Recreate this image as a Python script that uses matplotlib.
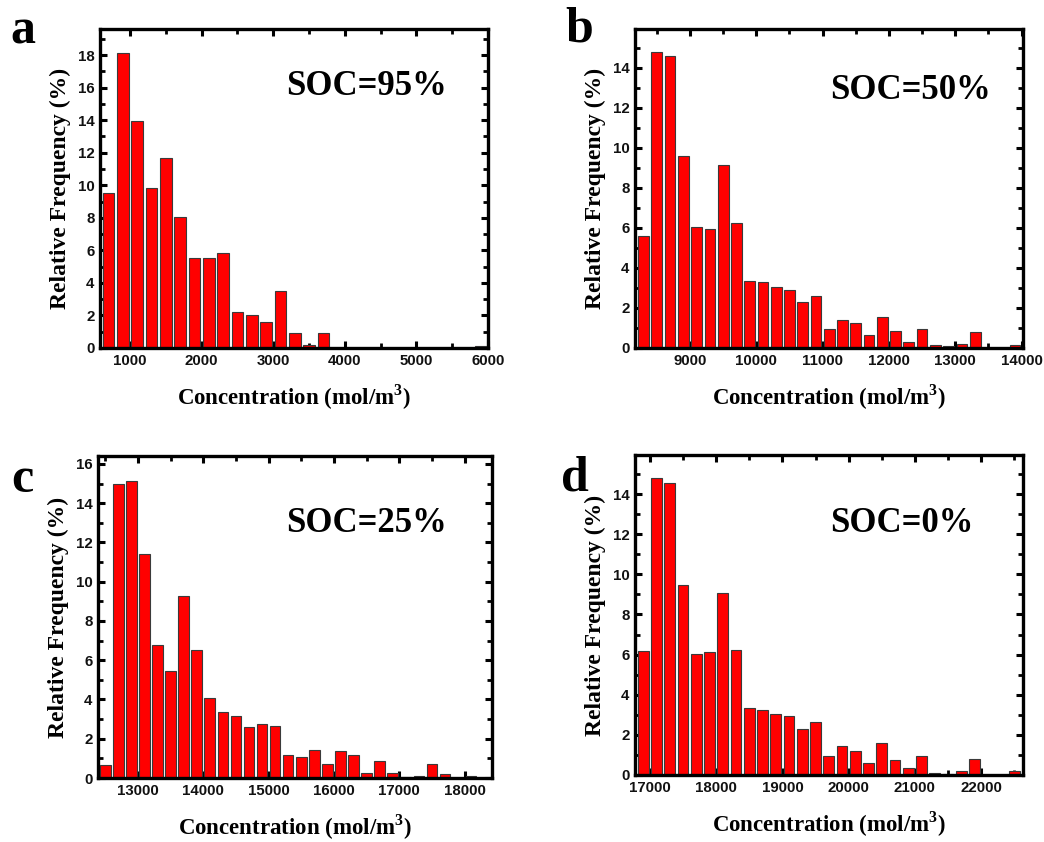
import numpy as np
import matplotlib
matplotlib.use('Agg')
import matplotlib.pyplot as plt
from matplotlib.ticker import MultipleLocator

plt.rcParams['mathtext.fontset'] = 'custom'
plt.rcParams['mathtext.rm'] = 'Liberation Serif:bold'
plt.rcParams['mathtext.bf'] = 'Liberation Serif:bold'

################################################################################################

# bin centres (mol/m^3) and relative frequency (%) for each state of charge
x_95 = np.arange(700, 6000, 200)
f_95 = [9.5, 18.1, 13.95, 9.85, 11.7, 8.05, 5.5, 5.55, 5.85, 2.2, 2.05, 1.6, 3.5, 0.95,
        0.2, 0.9, 0, 0, 0, 0, 0, 0, 0, 0, 0, 0, 0.15]

x_50 = np.arange(8300, 14000, 200)
f_50 = [5.6, 14.8, 14.6, 9.6, 6.05, 5.95, 9.13, 6.25, 3.34, 3.29, 3.05, 2.91, 2.32, 2.61,
        0.96, 1.4, 1.26, 0.64, 1.53, 0.84, 0.3, 0.96, 0.13, 0.08, 0.22, 0.81, 0, 0, 0.17]

x_25 = np.arange(12500, 18200, 200)
f_25 = [0.66, 14.97, 15.13, 11.4, 6.75, 5.47, 9.27, 6.52, 4.09, 3.36, 3.17, 2.62, 2.76, 2.67,
        1.18, 1.07, 1.43, 0.7, 1.38, 1.18, 0.24, 0.85, 0.27, 0.05, 0.1, 0.72, 0.19, 0, 0.1]

x_0 = np.arange(16900, 22600, 200)
f_0 = [6.18, 14.79, 14.54, 9.47, 6.01, 6.12, 9.09, 6.21, 3.35, 3.25, 3.03, 2.94, 2.27, 2.62,
       0.96, 1.43, 1.21, 0.62, 1.6, 0.76, 0.34, 0.96, 0.12, 0.06, 0.22, 0.79, 0, 0, 0.2]

panel_letters = ['a', 'b', 'c', 'd']
soc_labels = ['SOC=95%', 'SOC=50%', 'SOC=25%', 'SOC=0%']

################################################################################################

serif = 'Liberation Serif'
sans = 'Liberation Sans'

fig = plt.figure(figsize=(10.44, 8.42), dpi=100)

panels = [
    # rect, x, freq, xlim, ylim, letter pos, soc pos
    ([0.0958, 0.5867, 0.3716, 0.3789], x_95, f_95, (580, 6000), (0, 19.6), (0.022, 0.962), (0.3506, 0.897)),
    ([0.6082, 0.5867, 0.3716, 0.3789], x_50, f_50, (8170, 14020), (0, 15.95), (0.555, 0.965), (0.8726, 0.893)),
    ([0.0939, 0.0760, 0.3774, 0.3824], x_25, f_25, (12390, 18420), (0, 16.4), (0.021, 0.430), (0.3506, 0.378)),
    ([0.6082, 0.0796, 0.3716, 0.3800], x_0, f_0, (16775, 22630), (0, 15.95), (0.551, 0.432), (0.864, 0.378)),
]

for i, (rect, x, f, xlim, ylim, lpos, spos) in enumerate(panels):
    ax = fig.add_axes(rect)
    ax.bar(x, f, width=162, color='#ff0000', edgecolor='#3a3a3a', linewidth=0.8, zorder=2)
    ax.set_xlim(*xlim)
    ax.set_ylim(*ylim)

    ax.xaxis.set_major_locator(MultipleLocator(1000))
    ax.xaxis.set_minor_locator(MultipleLocator(500))
    ax.yaxis.set_major_locator(MultipleLocator(2))
    ax.yaxis.set_minor_locator(MultipleLocator(1))
    ax.tick_params(which='both', direction='in', top=True, right=True, zorder=5)
    ax.tick_params(which='major', length=5, width=2.2, labelsize=10.8, pad=4)
    ax.tick_params(which='minor', length=3.5, width=2.0)
    for lab in ax.get_xticklabels() + ax.get_yticklabels():
        lab.set_family(sans)
        lab.set_fontweight('bold')
        lab.set_color('#111111')
    for sp in ax.spines.values():
        sp.set_linewidth(2.4)
        sp.set_zorder(6)

    ax.set_xlabel(r'Concentration (mol/m$^{3}$)', family=serif, fontweight='bold',
                  fontsize=16.5, labelpad=11)
    ax.set_ylabel('Relative Frequency (%)', family=serif, fontweight='bold',
                  fontsize=17, labelpad=5)

    fig.text(lpos[0], lpos[1], panel_letters[i], family=serif, fontweight='bold',
             fontsize=36, ha='center', va='center')
    fig.text(spos[0], spos[1], soc_labels[i], family=serif, fontweight='bold',
             fontsize=25, ha='center', va='center')

fig.savefig('out.png', dpi=100)
